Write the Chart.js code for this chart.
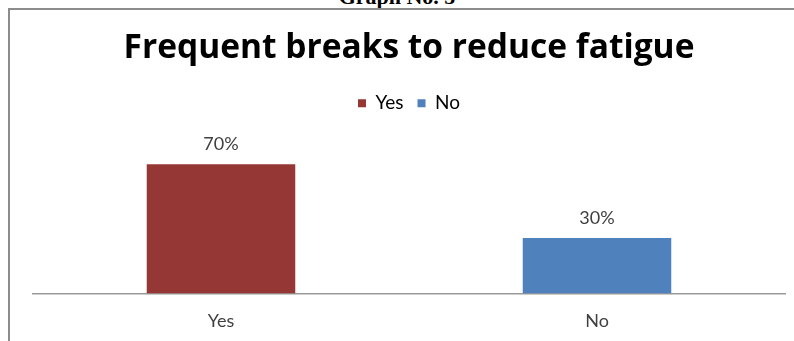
<!DOCTYPE html>
<html>
<head>
<meta charset="utf-8">
<script src="https://cdn.jsdelivr.net/npm/chart.js@4"></script>
<style>
  html, body { margin: 0; padding: 0; background: #fff; }
  body { width: 794px; height: 341px; position: relative; overflow: hidden; }
  #caption {
    position: absolute; left: 0; top: -14px; width: 794px; text-align: center;
    font: bold 22px/1 "Liberation Serif", "DejaVu Serif", serif; color: #000;
  }
  #frame {
    position: absolute; left: 8px; top: 8px; width: 800px; height: 400px;
    border-left: 2px solid #8c8c8c; border-top: 2px solid #8c8c8c;
    pointer-events: none;
  }
  /* the chart runs past the bottom edge, as in the cropped original */
  #wrap { position: absolute; left: 0; top: 0; width: 794px; height: 358px; }
</style>
</head>
<body>
<div id="caption">Graph No. 5</div>
<div id="wrap"><canvas id="chart"></canvas></div>
<div id="frame"></div>
<script>
const TITLE = 'Frequent breaks to reduce fatigue';
const categories = ['Yes', 'No'];
const percentages = [70, 30];
const barColors = ['#953735', '#4F81BD'];

const FONT = 'Lato, "Open Sans", sans-serif';
const TEXT_GREY = '#404040';

// draws "70%" style labels over each bar
const valueLabels = {
  id: 'valueLabels',
  afterDatasetsDraw(chart) {
    const ctx = chart.ctx;
    const meta = chart.getDatasetMeta(0);
    ctx.save();
    ctx.font = '18px ' + FONT;
    ctx.fillStyle = TEXT_GREY;
    ctx.textAlign = 'center';
    ctx.textBaseline = 'alphabetic';
    meta.data.forEach((bar, i) => {
      const v = chart.data.datasets[0].data[i];
      ctx.fillText(v + '%', bar.x, bar.y - 14);
    });
    ctx.restore();
  }
};

// extra room between the legend and the bars
const legendGap = {
  id: 'legendGap',
  beforeInit(chart) {
    const fit = chart.legend.fit;
    chart.legend.fit = function () {
      fit.call(this);
      this.height += 23;
    };
  }
};

new Chart(document.getElementById('chart'), {
  type: 'bar',
  data: {
    labels: categories,
    datasets: [{
      label: 'Percent',
      data: percentages,
      backgroundColor: barColors,
      borderWidth: 0,
      categoryPercentage: 1,
      barPercentage: 0.395,
    }],
  },
  options: {
    responsive: true,
    maintainAspectRatio: false,
    animation: false,
    layout: { padding: { left: 33, right: 9, top: 0, bottom: 9 } },
    plugins: {
      title: {
        display: true,
        text: TITLE,
        color: '#000',
        font: { family: '"Open Sans", sans-serif', size: 33.5, weight: 'bold', lineHeight: 1.2 },
        padding: { top: 28.5, bottom: 11 },
      },
      legend: {
        display: true,
        position: 'top',
        labels: {
          boxWidth: 8,
          boxHeight: 8,
          padding: 14,
          color: TEXT_GREY,
          font: { family: FONT, size: 19 },
          generateLabels: () => categories.map((c, i) => ({
            text: c,
            fillStyle: barColors[i],
            strokeStyle: barColors[i],
            lineWidth: 0,
            hidden: false,
            index: i,
          })),
        },
        onClick: () => {},
      },
      tooltip: { enabled: false },
    },
    scales: {
      x: {
        grid: { display: false, drawTicks: false },
        border: { display: true, color: '#9a9a9a', width: 1.5 },
        ticks: { color: TEXT_GREY, font: { family: FONT, size: 18 }, padding: 17 },
      },
      y: {
        display: false,
        min: 0,
        max: 80,
      },
    },
  },
  plugins: [valueLabels, legendGap],
});
</script>
</body>
</html>
